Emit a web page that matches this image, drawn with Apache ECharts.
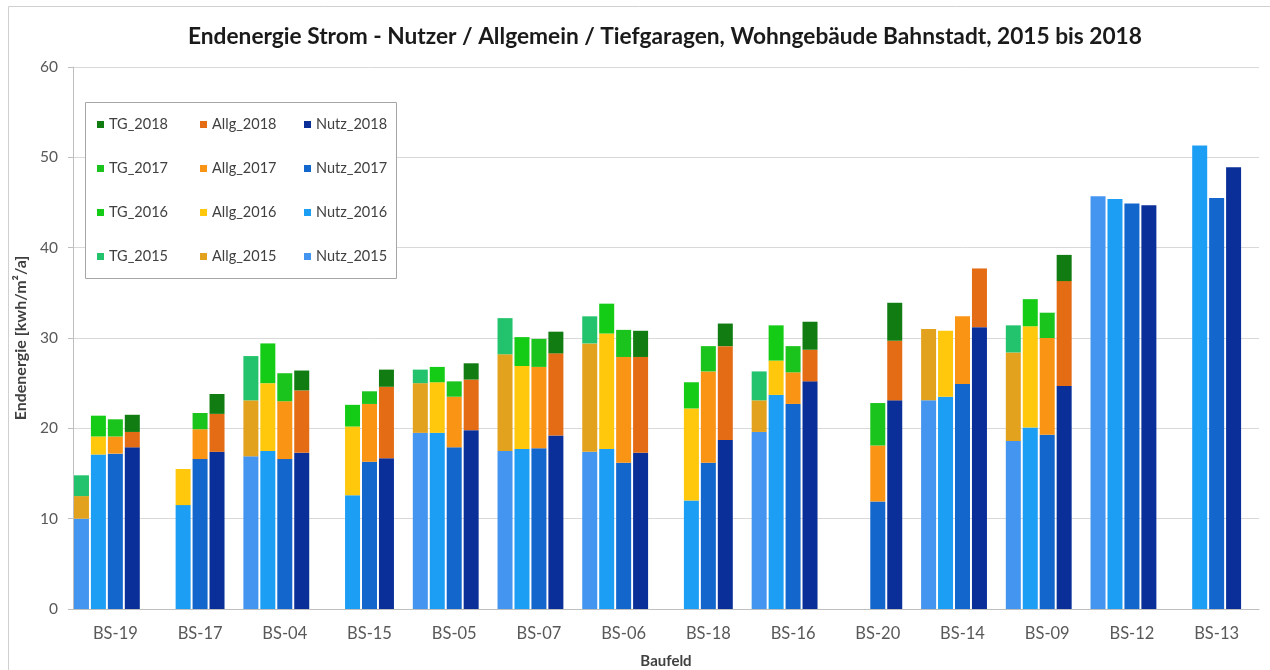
<!DOCTYPE html>
<html>
<head>
<meta charset="utf-8">
<title>Endenergie Strom Bahnstadt</title>
<script src="https://cdn.jsdelivr.net/npm/echarts@6/dist/echarts.min.js"></script>
<style>
    html, body { margin: 0; padding: 0; background: #fff; }
    #main { width: 1270px; height: 670px; }
</style>
</head>
<body>
<div id="main"></div>
<script>
var categories = ['BS-19', 'BS-17', 'BS-04', 'BS-15', 'BS-05', 'BS-07', 'BS-06',
    'BS-18', 'BS-16', 'BS-20', 'BS-14', 'BS-09', 'BS-12', 'BS-13'];

// segment heights in kWh/m²/a, null = no value
var nutz2015 = [10.0, null, 16.9, null, 19.5, 17.5, 17.4, null, 19.6, null, 23.1, 18.6, 45.7, null];
var allg2015 = [2.5, null, 6.2, null, 5.5, 10.7, 12.0, null, 3.5, null, 7.9, 9.8, null, null];
var tg2015   = [2.3, null, 4.9, null, 1.5, 4.0, 3.0, null, 3.2, null, null, 3.0, null, null];

var nutz2016 = [17.1, 11.5, 17.5, 12.6, 19.5, 17.7, 17.7, 12.0, 23.7, null, 23.5, 20.1, 45.4, 51.3];
var allg2016 = [2.0, 4.0, 7.5, 7.6, 5.6, 9.2, 12.8, 10.2, 3.8, null, 7.3, 11.2, null, null];
var tg2016   = [2.3, null, 4.4, 2.4, 1.7, 3.2, 3.3, 2.9, 3.9, null, null, 3.0, null, null];

var nutz2017 = [17.2, 16.6, 16.6, 16.3, 17.9, 17.8, 16.2, 16.2, 22.7, 11.9, 24.9, 19.3, 44.9, 45.5];
var allg2017 = [1.9, 3.3, 6.4, 6.4, 5.6, 9.0, 11.7, 10.1, 3.5, 6.2, 7.5, 10.7, null, null];
var tg2017   = [1.9, 1.8, 3.1, 1.4, 1.7, 3.1, 3.0, 2.8, 2.9, 4.7, null, 2.8, null, null];

var nutz2018 = [17.9, 17.4, 17.3, 16.7, 19.8, 19.2, 17.3, 18.7, 25.2, 23.1, 31.2, 24.7, 44.7, 48.9];
var allg2018 = [1.7, 4.2, 6.9, 7.9, 5.6, 9.1, 10.6, 10.4, 3.5, 6.6, 6.5, 11.6, null, null];
var tg2018   = [1.9, 2.2, 2.2, 1.9, 1.8, 2.4, 2.9, 2.5, 3.1, 4.2, null, 2.9, null, null];

var fontName = 'Lato';
var textGrey = '#595959';

var myChart = echarts.init(document.getElementById('main'));

function barSeries(name, data, stack, color) {
    return {
        name: name,
        type: 'bar',
        stack: stack,
        data: data,
        barWidth: 15,
        barGap: '13%',
        itemStyle: { color: color },
        emphasis: { disabled: true }
    };
}

var series = [
    barSeries('Nutz_2015', nutz2015, 'y2015', '#4395F0'),
    barSeries('Allg_2015', allg2015, 'y2015', '#E3A21E'),
    barSeries('TG_2015', tg2015, 'y2015', '#22C36C'),
    barSeries('Nutz_2016', nutz2016, 'y2016', '#1C9EF5'),
    barSeries('Allg_2016', allg2016, 'y2016', '#FFC80C'),
    barSeries('TG_2016', tg2016, 'y2016', '#14CC16'),
    barSeries('Nutz_2017', nutz2017, 'y2017', '#1366CC'),
    barSeries('Allg_2017', allg2017, 'y2017', '#FA9414'),
    barSeries('TG_2017', tg2017, 'y2017', '#1AC41C'),
    barSeries('Nutz_2018', nutz2018, 'y2018', '#0B2F98'),
    barSeries('Allg_2018', allg2018, 'y2018', '#E46C14'),
    barSeries('TG_2018', tg2018, 'y2018', '#107C12'),
    // empty fifth slot so the four bars sit left in each group
    barSeries('leer', [], 'leer', 'rgba(0,0,0,0)')
];

function legendColumn(names, left) {
    return {
        data: names,
        orient: 'vertical',
        left: left,
        top: 117,
        padding: 0,
        itemWidth: 7,
        itemHeight: 7,
        itemGap: 29,
        icon: 'rect',
        selectedMode: false,
        textStyle: { fontFamily: fontName, fontSize: 14.5, color: '#404040', lineHeight: 15 }
    };
}

var option = {
    animation: false,
    backgroundColor: '#fff',
    title: {
        text: 'Endenergie Strom - Nutzer / Allgemein / Tiefgaragen, Wohngebäude Bahnstadt, 2015 bis 2018',
        left: 188,
        top: 25,
        padding: 0,
        textStyle: { fontFamily: fontName, fontSize: 22.7, fontWeight: 'bold', color: '#1a1a1a' }
    },
    legend: [
        legendColumn(['TG_2018', 'TG_2017', 'TG_2016', 'TG_2015'], 97),
        legendColumn(['Allg_2018', 'Allg_2017', 'Allg_2016', 'Allg_2015'], 200),
        legendColumn(['Nutz_2018', 'Nutz_2017', 'Nutz_2016', 'Nutz_2015'], 304)
    ],
    grid: { left: 73, right: 11, top: 67, bottom: 61, outerBoundsMode: 'none' },
    xAxis: {
        type: 'category',
        data: categories,
        name: 'Baufeld',
        nameLocation: 'middle',
        nameGap: 45,
        nameTextStyle: { fontFamily: fontName, fontSize: 15, fontWeight: 'bold', color: '#404040' },
        axisLine: { lineStyle: { color: '#bfbfbf' } },
        axisTick: { length: 5, lineStyle: { color: '#bfbfbf' } },
        axisLabel: { fontFamily: fontName, fontSize: 16.5, color: textGrey, margin: 16 }
    },
    yAxis: {
        type: 'value',
        min: 0,
        max: 60,
        interval: 10,
        name: 'Endenergie [kwh/m²/a]',
        nameLocation: 'middle',
        nameGap: 44,
        nameRotate: 90,
        nameTextStyle: { fontFamily: fontName, fontSize: 16, fontWeight: 'bold', color: '#404040' },
        axisLine: { show: true, lineStyle: { color: '#bfbfbf' } },
        axisTick: { show: true, length: 5, lineStyle: { color: '#bfbfbf' } },
        axisLabel: { fontFamily: fontName, fontSize: 15.5, color: textGrey, margin: 15 },
        splitLine: { lineStyle: { color: '#d9d9d9' } }
    },
    graphic: [
        {
            type: 'rect',
            z: 3,
            silent: true,
            shape: { x: 85.5, y: 102.5, width: 311, height: 176 },
            style: { fill: '#fff', stroke: '#a6a6a6', lineWidth: 1 }
        },
        {
            type: 'rect',
            z: 0,
            silent: true,
            shape: { x: 8.5, y: 6.5, width: 1290, height: 700 },
            style: { fill: 'none', stroke: '#d0d0d0', lineWidth: 1 }
        }
    ],
    series: series
};

myChart.setOption(option);
</script>
</body>
</html>
